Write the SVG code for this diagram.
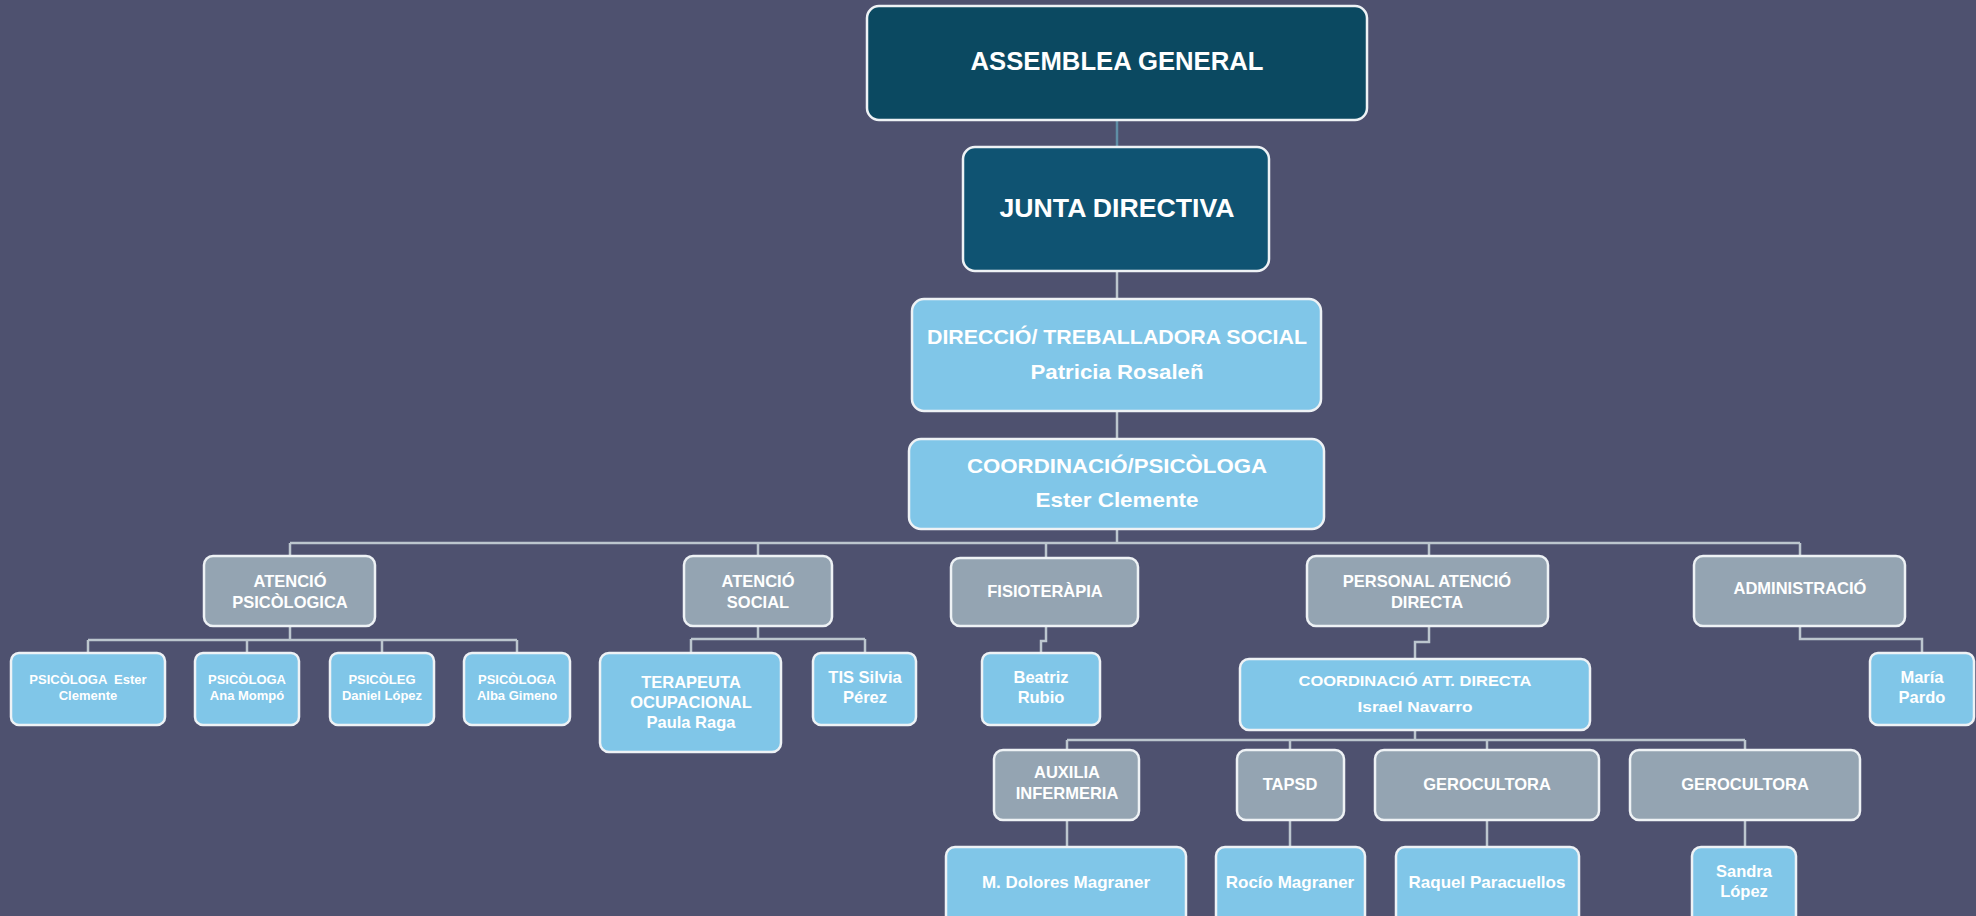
<svg xmlns="http://www.w3.org/2000/svg" width="1976" height="916" viewBox="0 0 1976 916">
<style>
.bg{fill:#4e516f}
.box{stroke:#eef2f5;stroke-width:2.5}
.dark1{fill:#0b4961}
.dark2{fill:#0f5372}
.blue{fill:#80c6e8}
.grey{fill:#94a4b2}
text{font-family:"Liberation Sans",Arial,sans-serif;font-weight:bold;fill:#ffffff;text-anchor:middle}
.t26{font-size:26px}
.t20{font-size:20.5px}
.t16{font-size:16.5px}
.t17{font-size:17px}
.t15{font-size:15.5px}
.t12{font-size:13px}
.conn{fill:none;stroke:#bcc6ce;stroke-width:2.5}
.conn-top{fill:none;stroke:#5f8ea6;stroke-width:2.5}
</style>
<rect class="bg" x="0" y="0" width="1976" height="916"/>

<g id="connectors">
  <path class="conn-top" d="M1117,120 V147"/>
  <path class="conn" d="M1117,271 V299"/>
  <path class="conn" d="M1117,411 V439"/>
  <path class="conn" d="M1117,529 V543 M290,543 H1800 M290,543 V556 M758,543 V556 M1046,543 V558 M1429,543 V556 M1800,543 V556"/>
  <path class="conn" d="M290,626 V640 M88,640 H517 M88,640 V653 M247,640 V653 M382,640 V653 M517,640 V653"/>
  <path class="conn" d="M758,626 V639 M691,639 H865 M691,639 V653 M865,639 V653"/>
  <path class="conn" d="M1046,626 V641 H1041 V653"/>
  <path class="conn" d="M1429,626 V642 H1415 V659"/>
  <path class="conn" d="M1800,626 V639 H1922 V653"/>
  <path class="conn" d="M1415,730 V740 M1067,740 H1745 M1067,740 V750 M1290,740 V750 M1487,740 V750 M1745,740 V750"/>
  <path class="conn" d="M1067,820 V847 M1290,820 V847 M1487,820 V847 M1745,820 V847"/>
</g>

<g id="assemblea">
  <rect class="box dark1" x="867" y="6" width="500" height="114" rx="12"/>
  <text class="t26" x="1117" y="70" textLength="293" lengthAdjust="spacingAndGlyphs">ASSEMBLEA GENERAL</text>
</g>
<g id="junta">
  <rect class="box dark2" x="963" y="147" width="306" height="124" rx="12"/>
  <text class="t26" x="1117" y="217" textLength="235" lengthAdjust="spacingAndGlyphs">JUNTA DIRECTIVA</text>
</g>
<g id="direccio">
  <rect class="box blue" x="912" y="299" width="409" height="112" rx="12"/>
  <text class="t20" x="1117" y="344" textLength="380" lengthAdjust="spacingAndGlyphs">DIRECCIÓ/ TREBALLADORA SOCIAL</text>
  <text class="t20" x="1117" y="379" textLength="173" lengthAdjust="spacingAndGlyphs">Patricia Rosaleñ</text>
</g>
<g id="coordinacio">
  <rect class="box blue" x="909" y="439" width="415" height="90" rx="12"/>
  <text class="t20" x="1117" y="473" textLength="300" lengthAdjust="spacingAndGlyphs">COORDINACIÓ/PSICÒLOGA</text>
  <text class="t20" x="1117" y="507" textLength="163" lengthAdjust="spacingAndGlyphs">Ester Clemente</text>
</g>

<g id="atencio-psicologica">
  <rect class="box grey" x="204" y="556" width="171" height="70" rx="9"/>
  <text class="t16" x="290" y="587">ATENCIÓ</text>
  <text class="t16" x="290" y="608">PSICÒLOGICA</text>
</g>
<g id="atencio-social">
  <rect class="box grey" x="684" y="556" width="148" height="70" rx="9"/>
  <text class="t16" x="758" y="587">ATENCIÓ</text>
  <text class="t16" x="758" y="608">SOCIAL</text>
</g>
<g id="fisioterapia">
  <rect class="box grey" x="951" y="558" width="187" height="68" rx="9"/>
  <text class="t16" x="1045" y="597">FISIOTERÀPIA</text>
</g>
<g id="personal-atencio">
  <rect class="box grey" x="1307" y="556" width="241" height="70" rx="9"/>
  <text class="t16" x="1427" y="587">PERSONAL ATENCIÓ</text>
  <text class="t16" x="1427" y="608">DIRECTA</text>
</g>
<g id="administracio">
  <rect class="box grey" x="1694" y="556" width="211" height="70" rx="9"/>
  <text class="t16" x="1800" y="594">ADMINISTRACIÓ</text>
</g>

<g id="psi-ester">
  <rect class="box blue" x="11" y="653" width="154" height="72" rx="8"/>
  <text class="t12" x="88" y="684" xml:space="preserve">PSICÒLOGA  Ester</text>
  <text class="t12" x="88" y="700">Clemente</text>
</g>
<g id="psi-ana">
  <rect class="box blue" x="195" y="653" width="104" height="72" rx="8"/>
  <text class="t12" x="247" y="684">PSICÒLOGA</text>
  <text class="t12" x="247" y="700">Ana Mompó</text>
</g>
<g id="psi-daniel">
  <rect class="box blue" x="330" y="653" width="104" height="72" rx="8"/>
  <text class="t12" x="382" y="684">PSICÒLEG</text>
  <text class="t12" x="382" y="700">Daniel López</text>
</g>
<g id="psi-alba">
  <rect class="box blue" x="464" y="653" width="106" height="72" rx="8"/>
  <text class="t12" x="517" y="684">PSICÒLOGA</text>
  <text class="t12" x="517" y="700">Alba Gimeno</text>
</g>

<g id="terapeuta">
  <rect class="box blue" x="600" y="653" width="181" height="99" rx="9"/>
  <text class="t16" x="691" y="688">TERAPEUTA</text>
  <text class="t16" x="691" y="708">OCUPACIONAL</text>
  <text class="t16" x="691" y="728">Paula Raga</text>
</g>
<g id="tis-silvia">
  <rect class="box blue" x="813" y="653" width="103" height="72" rx="8"/>
  <text class="t16" x="865" y="683">TIS Silvia</text>
  <text class="t16" x="865" y="703">Pérez</text>
</g>
<g id="beatriz">
  <rect class="box blue" x="982" y="653" width="118" height="72" rx="8"/>
  <text class="t16" x="1041" y="683">Beatriz</text>
  <text class="t16" x="1041" y="703">Rubio</text>
</g>
<g id="coord-att-directa">
  <rect class="box blue" x="1240" y="659" width="350" height="71" rx="9"/>
  <text class="t15" x="1415" y="686" textLength="233" lengthAdjust="spacingAndGlyphs">COORDINACIÓ ATT. DIRECTA</text>
  <text class="t15" x="1415" y="712" textLength="115" lengthAdjust="spacingAndGlyphs">Israel Navarro</text>
</g>
<g id="maria">
  <rect class="box blue" x="1870" y="653" width="104" height="72" rx="8"/>
  <text class="t16" x="1922" y="683">María</text>
  <text class="t16" x="1922" y="703">Pardo</text>
</g>

<g id="auxilia">
  <rect class="box grey" x="994" y="750" width="145" height="70" rx="9"/>
  <text class="t16" x="1067" y="778">AUXILIA</text>
  <text class="t16" x="1067" y="799">INFERMERIA</text>
</g>
<g id="tapsd">
  <rect class="box grey" x="1237" y="750" width="107" height="70" rx="9"/>
  <text class="t16" x="1290" y="790">TAPSD</text>
</g>
<g id="gerocultora1">
  <rect class="box grey" x="1375" y="750" width="224" height="70" rx="9"/>
  <text class="t16" x="1487" y="790">GEROCULTORA</text>
</g>
<g id="gerocultora2">
  <rect class="box grey" x="1630" y="750" width="230" height="70" rx="9"/>
  <text class="t16" x="1745" y="790">GEROCULTORA</text>
</g>

<g id="dolores">
  <rect class="box blue" x="946" y="847" width="240" height="80" rx="9"/>
  <text class="t17" x="1066" y="888">M. Dolores Magraner</text>
</g>
<g id="rocio">
  <rect class="box blue" x="1216" y="847" width="149" height="80" rx="9"/>
  <text class="t17" x="1290" y="888">Rocío Magraner</text>
</g>
<g id="raquel">
  <rect class="box blue" x="1396" y="847" width="183" height="80" rx="9"/>
  <text class="t17" x="1487" y="888">Raquel Paracuellos</text>
</g>
<g id="sandra">
  <rect class="box blue" x="1692" y="847" width="104" height="80" rx="9"/>
  <text class="t16" x="1744" y="877">Sandra</text>
  <text class="t16" x="1744" y="897">López</text>
</g>
</svg>
